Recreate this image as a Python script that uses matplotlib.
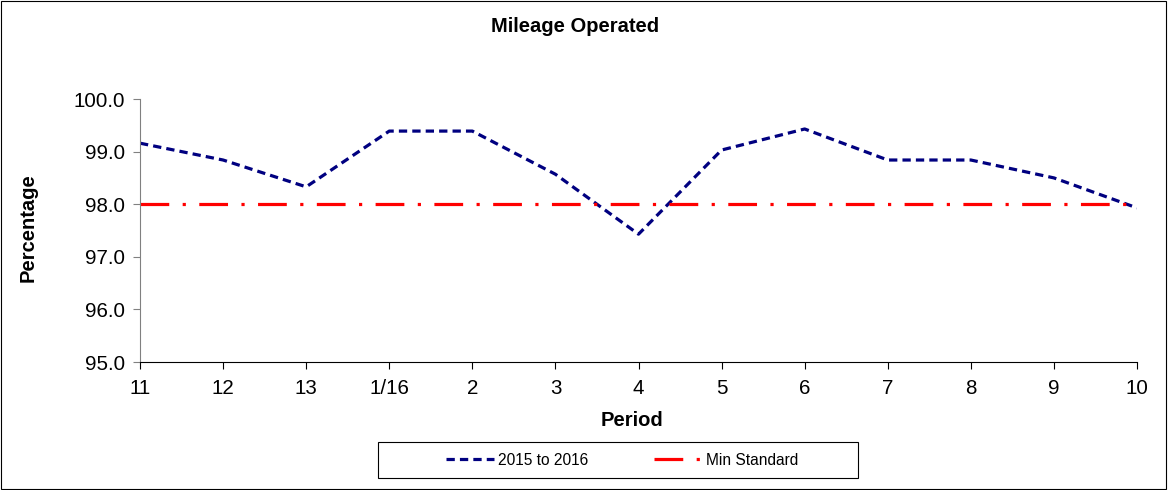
import matplotlib
matplotlib.use("Agg")
import matplotlib.pyplot as plt
from matplotlib.patches import Rectangle

plt.rcParams['font.family'] = ['Liberation Sans', 'DejaVu Sans']

periodos = ['11', '12', '13', '1/16', '2', '3', '4', '5', '6', '7', '8', '9', '10']
mileage = [99.16, 98.84, 98.33, 99.39, 99.39, 98.57, 97.43, 99.03, 99.43, 98.84, 98.84, 98.50, 97.93]
min_standard = [98.0] * len(periodos)
y_ticks = [95, 96, 97, 98, 99, 100]

W, H = 1168, 490
fig = plt.figure(figsize=(W / 100, H / 100), dpi=100)
ax = fig.add_axes([140 / W, 1 - 362 / H, (1137 - 140) / W, (362 - 99) / H])

x = list(range(len(periodos)))
linea1, = ax.plot(x, mileage, color='#000080', linewidth=2.3, linestyle=(0, (2.6, 1.6)),
                  label='2015 to 2016')
linea2, = ax.plot(x, min_standard, color='#ff0000', linewidth=2.3,
                  linestyle=(0, (9, 4.2, 1, 4.2)), label='Min Standard')

ax.set_xlim(0, len(periodos) - 1)
ax.set_ylim(95, 100)
ax.set_xticks(x)
ax.set_xticklabels(periodos)
ax.set_yticks(y_ticks)
ax.set_yticklabels(['%.1f' % v for v in y_ticks])
ax.tick_params(labelsize=14.8, direction='out', length=5)
ax.tick_params(axis='y', color='#808080', pad=6)
ax.tick_params(axis='x', color='black', pad=7)
ax.spines['top'].set_visible(False)
ax.spines['right'].set_visible(False)
ax.spines['left'].set_color('#808080')
ax.spines['bottom'].set_color('black')

# titulos y etiquetas en posiciones fijas
fig.text(575 / W, 1 - 27 / H, 'Mileage Operated', ha='center', va='center',
         fontsize=14.5, fontweight='bold')
fig.text(632 / W, 1 - 420 / H, 'Period', ha='center', va='center',
         fontsize=14.5, fontweight='bold')
fig.text(28 / W, 1 - 228 / H, 'Percentage', ha='center', va='center', rotation=90,
         fontsize=14.5, fontweight='bold')

# leyenda sin marco + marco propio
leg = fig.legend(handles=[linea1, linea2], loc='center',
                 bbox_to_anchor=(622 / W, 1 - 460 / H),
                 ncol=2, frameon=False, fontsize=11.2,
                 handlelength=3.1, handletextpad=0.26, borderaxespad=0,
                 borderpad=0, columnspacing=4.2)
fig.patches.append(Rectangle((378 / W, 1 - 478 / H), 480 / W, 36 / H,
                             transform=fig.transFigure, fill=False,
                             edgecolor='black', linewidth=0.8))

# borde exterior de la figura
fig.patches.append(Rectangle((0.001, 0.002), 0.997, 0.996, transform=fig.transFigure,
                             fill=False, edgecolor='black', linewidth=0.8))

fig.savefig('out.png', dpi=100)
